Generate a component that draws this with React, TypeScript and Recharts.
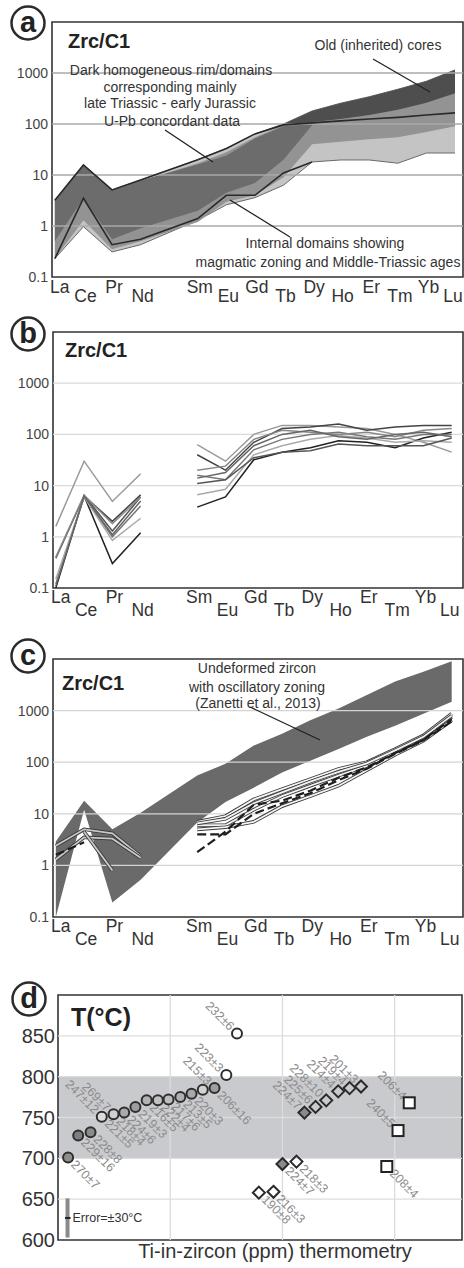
import React from "react";
import {
  ComposedChart, Area, Line, Scatter, XAxis, YAxis,
  ReferenceLine, ReferenceArea, ErrorBar,
} from "recharts";

const FONT = "'Liberation Sans', Arial, Helvetica, sans-serif";

// REE axis: names and atomic numbers (Pm left out, which opens the gap between Nd and Sm)
const REE = ["La", "Ce", "Pr", "Nd", "Sm", "Eu", "Gd", "Tb", "Dy", "Ho", "Er", "Tm", "Yb", "Lu"];
const ATOMIC = [57, 58, 59, 60, 62, 63, 64, 65, 66, 67, 68, 69, 70, 71];
const LOG_TICKS = [0.1, 1, 10, 100, 1000];
const LOG_DOMAIN = [0.1, 10000];

type V = number | null;
const _ = null;

// (a) fields of the three zircon domains (lo / hi of each band)
const aOuterLo: V[] = [0.23, 0.97, 0.31, 0.43, 1.3, 2.6, 3.6, 6.3, 18, 19.7, 19.7, 17, 27, 27];
const aOuterHi: V[] = [3.2, 15.7, 5.1, 8, 20, 33, 64, 100, 180, 256, 343, 480, 690, 1150];
const aMidLo: V[] = [0.23, 1.3, 0.35, 0.5, 1.2, 3, 4, 9, 40, 45, 50, 55, 70, 90];
const aMidHi: V[] = [3.2, 15.7, 5.1, 7.5, 17, 28, 55, 95, 150, 190, 240, 290, 340, 420];
const aDarkLo: V[] = [0.5, 3.5, 0.55, 0.9, 2, 4.5, 7, 20, 95, _, _, _, _, _];
const aDarkHi: V[] = [3.2, 15.7, 5.1, 7.8, 16, 24, 52, 90, 100, _, _, _, _, _];
const aCoreLo: V[] = [_, _, _, _, _, _, 64, 96, 110, 125, 150, 190, 260, 400];
const aCoreHi: V[] = [_, _, _, _, _, _, 64, 100, 180, 256, 343, 480, 690, 1150];
const aRimLine: V[] = [3.2, 15.7, 5.1, 8, 20, 33, 64, 96, 105, 115, 125, 135, 150, 165];
const aInnerLine: V[] = [0.23, 3.5, 0.43, 0.55, 1.4, 4, 4, 11, 18, _, _, _, _, _];

// (b) single spot analyses
const b1: V[] = [1.6, 30, 4.9, 17, 63, 30, 100, 150, 150, 140, 130, 100, 70, 45];
const b2: V[] = [0.38, 6.3, 2.0, 6.6, 40, 20, 70, 130, 140, 160, 120, 140, 150, 150];
const b3: V[] = [0.1, 6.3, 0.3, 1.2, 3.8, 6, 32, 45, 55, 75, 70, 55, 85, 110];
const b4: V[] = [0.12, 6, 1.0, 4, 16, 13, 50, 80, 100, 110, 90, 80, 100, 100];
const b5: V[] = [0.15, 6, 0.85, 2.3, 6.6, 8.5, 40, 60, 80, 95, 85, 70, 75, 70];
const b6: V[] = [_, 6.5, 1.3, 6, 11, 13, 35, 45, 48, 65, 60, 60, 60, 85];
const b7: V[] = [0.4, 6.5, 1.8, 6, 20, 24, 80, 120, 110, 100, 110, 90, 120, 130];
const b8: V[] = [0.11, 6.2, 1.1, 5, 14, 18, 60, 100, 120, 90, 80, 100, 110, 90];
const B_SERIES = { b1, b2, b3, b4, b5, b6, b7, b8 };
const B_COLORS = ["#9a9a9a", "#444", "#222", "#777", "#aaa", "#555", "#888", "#666"];

// (c) undeformed zircon field (Zanetti et al., 2013) and this study
const cBandLo: V[] = [0.1, 12, 0.19, 0.53, 6.8, 17, 32, 63, 107, 180, 310, 510, 870, 1480];
const cBandHi: V[] = [2.9, 18, 5, 10.5, 55, 93, 210, 355, 650, 1100, 2000, 3650, 5650, 9000];
const cw1: V[] = [2.4, 5, 4.2, 1.5, 7, 9, 19, 30, 47, 74, 100, 180, 330, 870];
const cw2: V[] = [1.3, 3.5, 3.3, 1.4, 6, 6, 12, 22, 35, 55, 85, 160, 290, 750];
const cw3: V[] = [_, 4.5, 0.8, _, 5, 5.5, 7, 14, 22, 35, 70, 140, 260, 650];
const cw4: V[] = [_, _, _, _, 6.5, 8, 16, 26, 42, 65, 95, 170, 310, 800];
const cd1: V[] = [1.6, 2.8, _, _, 1.8, 4.5, 15, 18, 28, 50, 80, 150, 270, 680];
const cd2: V[] = [_, _, _, _, 4, 4, 10, 16, 25, 45, 75, 145, 265, 620];
const C_WHITE = { cw1, cw2, cw3, cw4 };
const C_DASHED = { cd1, cd2 };

// (d) Ti-in-zircon temperatures
const circX = [0.9, 1.8, 2.9, 3.9, 4.95, 5.9, 6.9, 7.9, 8.9, 9.85, 10.9, 11.9, 12.9, 13.95, 15.0, 15.95];
const circT = [701, 728, 732, 751, 754, 756, 763, 771, 771, 772, 775, 779, 784, 786, 802, 853];
const circFill = ["#8e8e8e", "#7e7e7e", "#8a8a8a", "#dcdcdc", "#d0d0d0", "#a9a9a9", "#9d9d9d", "#b3b3b3",
  "#c2c2c2", "#bdbdbd", "#b0b0b0", "#a8a8a8", "#d2d2d2", "#9e9e9e", "#ffffff", "#ffffff"];
const circAbove = ["", "", "", "247±12", "269±7", "", "", "", "", "", "", "", "", "215±3", "223±3", "232±6"];
const circBelow = ["270±7", "229±16", "228±8", "221±5", "218±4", "224±6", "219±3", "216±5", "222±4",
  "217±6", "213±5", "220±3", "", "206±16", "", ""];

const diaX = [17.9, 19.2, 20.0, 21.25, 21.96, 22.95, 23.9, 24.97, 25.98, 27.0];
const diaT = [658, 659, 693, 696, 756, 763, 771, 782, 786, 788];
const diaFill = ["none", "none", "#8a8a8a", "none", "#8a8a8a", "none", "none", "none", "none", "none"];
const diaAbove = ["", "", "", "", "224±7", "225±6", "228±10", "214±4", "219±4", "201±3"];
const diaBelow = ["190±8", "216±3", "224±7", "218±3", "", "", "", "", "", ""];

const sqX = [29.3, 30.3, 31.3];
const sqT = [690, 734, 768];
const sqAbove = ["", "240±5", "206±4"];
const sqBelow = ["208±4", "", ""];

const errX = [0.85];
const errT = [627];
const errHalf = [24];

const T_TICKS = [600, 650, 700, 750, 800, 850];

type Row = Record<string, any>;

// one row per element; split lines get an "L"/"H" key so they break between Nd and Sm
function reeRows(
  split: Record<string, V[]>,
  cont: Record<string, V[]>,
  ranges: Record<string, [V[], V[]]>,
): Row[] {
  return ATOMIC.map((z, i) => {
    const row: Row = { z };
    for (const [k, vals] of Object.entries(split)) {
      if (vals[i] != null) row[k + (i < 4 ? "L" : "H")] = vals[i];
    }
    for (const [k, vals] of Object.entries(cont)) {
      if (vals[i] != null) row[k] = vals[i];
    }
    for (const [k, [lo, hi]] of Object.entries(ranges)) {
      if (lo[i] != null && hi[i] != null) row[k] = [lo[i], hi[i]];
    }
    return row;
  });
}

const aData = reeRows({}, { rim: aRimLine, inner: aInnerLine }, {
  outer: [aOuterLo, aOuterHi], mid: [aMidLo, aMidHi], dark: [aDarkLo, aDarkHi], core: [aCoreLo, aCoreHi],
});
const bData = reeRows(B_SERIES, {}, {});
const cData = reeRows({ ...C_WHITE, ...C_DASHED }, {}, { band: [cBandLo, cBandHi] });

const points = (xs: number[], ts: number[], extra: (i: number) => Row) =>
  xs.map((x, i) => ({ x, t: ts[i], ...extra(i) }));
const circData = points(circX, circT, i => ({ fill: circFill[i], above: circAbove[i], below: circBelow[i] }));
const diaData = points(diaX, diaT, i => ({ fill: diaFill[i], above: diaAbove[i], below: diaBelow[i] }));
const sqData = points(sqX, sqT, i => ({ fill: "#fff", above: sqAbove[i], below: sqBelow[i] }));
const errData = points(errX, errT, i => ({ err: errHalf[i] }));

function ReeTick(props: any) {
  const { x, y, payload, up, down } = props;
  const i = ATOMIC.indexOf(payload.value);
  if (i < 0) return null;
  // La sits on the frame, its label is nudged right like in the original
  const dx = i === 0 ? 5 : i === REE.length - 1 ? -2 : 2;
  return (
    <text x={x + dx} y={y + (i % 2 === 0 ? up : down)} textAnchor="middle" fontSize={17.5}
      fill="#333" fontFamily={FONT}>{REE[i]}</text>
  );
}

function reeAxes(domainX: number[], up: number, down: number, yWidth: number) {
  return [
    <XAxis key="x" type="number" dataKey="z" domain={domainX} ticks={ATOMIC} interval={0}
      tick={<ReeTick up={up} down={down} />} tickLine={false} axisLine={false}
      tickSize={0} tickMargin={0} height={30} allowDataOverflow />,
    <YAxis key="y" scale="log" domain={LOG_DOMAIN} ticks={LOG_TICKS} interval={0} allowDataOverflow
      tickFormatter={(v: number) => String(v)}
      tick={{ fontSize: 14, fill: "#444", fontFamily: FONT }}
      tickLine={false} axisLine={false} tickSize={0} tickMargin={4} width={yWidth} />,
  ];
}

const grid = (stroke: string) =>
  LOG_TICKS.slice(1).map(v => <ReferenceLine key={"g" + v} y={v} stroke={stroke} strokeWidth={1.3} />);

const frame = (y1: number, y2: number) => (
  <ReferenceArea key="frame" y1={y1} y2={y2} fill="none" fillOpacity={0} stroke="#333"
    strokeWidth={1.6} ifOverflow="visible" />
);

function Labels({ cx, cy, p }: { cx: number; cy: number; p: any }) {
  const st = { fontSize: 12.5, fill: "#8c8c8c", fontFamily: FONT };
  return (
    <>
      {p.above ? (
        <text x={cx - 5} y={cy - 5} dy={4} textAnchor="end" transform={`rotate(45 ${cx - 5} ${cy - 5})`} {...st}>
          {p.above}
        </text>
      ) : null}
      {p.below ? (
        <text x={cx + 5} y={cy + 5} dy={4} textAnchor="start" transform={`rotate(45 ${cx + 5} ${cy + 5})`} {...st}>
          {p.below}
        </text>
      ) : null}
    </>
  );
}

const circleShape = (props: any) => {
  const { cx, cy, payload } = props;
  return (
    <g>
      <Labels cx={cx} cy={cy} p={payload} />
      <circle cx={cx} cy={cy} r={5} fill={payload.fill} stroke="#2e2e2e" strokeWidth={2} />
    </g>
  );
};

const diamondShape = (props: any) => {
  const { cx, cy, payload } = props;
  const d = 6;
  return (
    <g>
      <Labels cx={cx} cy={cy} p={payload} />
      <path d={`M${cx},${cy - d}L${cx + d},${cy}L${cx},${cy + d}L${cx - d},${cy}Z`}
        fill={payload.fill} stroke="#2a2a2a" strokeWidth={2} />
    </g>
  );
};

const squareShape = (props: any) => {
  const { cx, cy, payload } = props;
  return (
    <g>
      <Labels cx={cx} cy={cy} p={payload} />
      <rect x={cx - 5.5} y={cy - 5.5} width={11} height={11} fill={payload.fill} stroke="#222" strokeWidth={2} />
    </g>
  );
};

const errShape = (props: any) => {
  const { cx, cy } = props;
  return (
    <g>
      <line x1={cx - 2.5} x2={cx + 3} y1={cy} y2={cy} stroke="#222" strokeWidth={2} />
      <text x={cx + 5} y={cy + 4.5} fontSize={12.5} fill="#333" fontFamily={FONT}>Error=±30°C</text>
    </g>
  );
};

function PanelA() {
  return (
    <ComposedChart width={464} height={310} data={aData} margin={{ top: 22, right: 1, bottom: 3, left: 7 }}>
      {reeAxes([56.9, 71.28], 16, 25, 45)}
      <Area dataKey="outer" type="linear" fill="#c4c4c4" fillOpacity={1} stroke="#6a6a6a" strokeWidth={1} isAnimationActive={false} />
      <Area dataKey="mid" type="linear" fill="#939393" fillOpacity={1} stroke="none" isAnimationActive={false} />
      <Area dataKey="dark" type="linear" fill="#6c6c6c" fillOpacity={1} stroke="none" isAnimationActive={false} />
      <Area dataKey="core" type="linear" fill="#4e4e4e" fillOpacity={1} stroke="none" isAnimationActive={false} />
      {grid("#a9a9a9")}
      <Line dataKey="rim" type="linear" stroke="#2a2a2a" strokeWidth={1.6} dot={false} activeDot={false} isAnimationActive={false} />
      <Line dataKey="inner" type="linear" stroke="#2a2a2a" strokeWidth={1.6} dot={false} activeDot={false} isAnimationActive={false} />
      {frame(0.1, 10000)}
    </ComposedChart>
  );
}

function PanelB() {
  const keys = Object.keys(B_SERIES);
  return (
    <ComposedChart width={464} height={301} data={bData} margin={{ top: 12, right: 1, bottom: 3, left: 7 }}>
      {reeAxes([56.9, 71.4], 15, 28, 46)}
      {grid("#dadada")}
      {keys.flatMap((k, i) => ["L", "H"].map(h => (
        <Line key={k + h} dataKey={k + h} type="linear" stroke={B_COLORS[i]} strokeWidth={1.5}
          dot={false} activeDot={false} isAnimationActive={false} />
      )))}
      {frame(0.1, 10000)}
    </ComposedChart>
  );
}

function PanelC() {
  return (
    <ComposedChart width={464} height={310} data={cData} margin={{ top: 19, right: 1, bottom: 3, left: 7 }}>
      {reeAxes([56.9, 71.4], 15, 28, 46)}
      <Area dataKey="band" type="linear" fill="#6a6a6a" fillOpacity={1} stroke="none" isAnimationActive={false} />
      {grid("#d4d4d4")}
      {Object.keys(C_WHITE).flatMap(k => ["L", "H"].flatMap(h => [
        <Line key={k + h + "o"} dataKey={k + h} type="linear" stroke="#3a3a3a" strokeWidth={3.6}
          dot={false} activeDot={false} isAnimationActive={false} />,
        <Line key={k + h + "i"} dataKey={k + h} type="linear" stroke={h === "L" ? "#c8c8c8" : "#f4f4f4"} strokeWidth={1.8}
          dot={false} activeDot={false} isAnimationActive={false} />,
      ]))}
      {Object.keys(C_DASHED).flatMap(k => ["L", "H"].map(h => (
        <Line key={k + h} dataKey={k + h} type="linear" stroke="#1e1e1e" strokeWidth={2.2} strokeDasharray="9 4"
          dot={false} activeDot={false} isAnimationActive={false} />
      )))}
      {frame(0.1, 10000)}
    </ComposedChart>
  );
}

function PanelD() {
  return (
    <ComposedChart width={464} height={308} margin={{ top: 35, right: 2, bottom: 28, left: 6 }}>
      <XAxis type="number" dataKey="x" domain={[0, 36]} hide allowDataOverflow />
      <YAxis type="number" dataKey="t" domain={[600, 900]} ticks={T_TICKS} interval={0} allowDataOverflow
        tick={{ fontSize: 20, fill: "#333", fontFamily: FONT }} tickLine={false} axisLine={false}
        tickSize={0} tickMargin={3} width={52} />
      <ReferenceArea y1={700} y2={800} fill="#c9cacd" fillOpacity={1} stroke="none" />
      {[10, 20, 30].map(v => <ReferenceLine key={"vx" + v} x={v} stroke="#dcdcdc" strokeWidth={1.3} />)}
      {[650, 700, 750, 800, 850].map(v => <ReferenceLine key={"hy" + v} y={v} stroke="#dcdcdc" strokeWidth={1.3} />)}
      <Scatter data={errData} shape={errShape} isAnimationActive={false}>
        <ErrorBar dataKey="err" direction="y" width={0} stroke="#8a8a8a" strokeWidth={4} />
      </Scatter>
      <Scatter data={circData} shape={circleShape} isAnimationActive={false} />
      <Scatter data={diaData} shape={diamondShape} isAnimationActive={false} />
      <Scatter data={sqData} shape={squareShape} isAnimationActive={false} />
      <ReferenceArea y1={600} y2={900} fill="none" fillOpacity={0} stroke="#333" strokeWidth={1.6} ifOverflow="visible" />
    </ComposedChart>
  );
}

const PANELS = [
  { letter: "a", cx: 28, cy: 23 },
  { letter: "b", cx: 28, cy: 334 },
  { letter: "c", cx: 28, cy: 656 },
  { letter: "d", cx: 29, cy: 999 },
];

function Overlay() {
  const note = { fontSize: 14, fill: "#333", fontFamily: FONT, textAnchor: "middle" as const };
  const title = { fontSize: 20, fontWeight: 700, fill: "#222", fontFamily: FONT };
  return (
    <svg width={464} height={1268} style={{ position: "absolute", left: 0, top: 0, pointerEvents: "none" }}>
      {PANELS.map(p => (
        <g key={p.letter}>
          <circle cx={p.cx} cy={p.cy} r={16.5} fill="#fff" stroke="#2b2b2b" strokeWidth={2.5} />
          <text x={p.cx} y={p.cy + 9} textAnchor="middle" fontSize={29} fontWeight={700} fill="#222" fontFamily={FONT}>
            {p.letter}
          </text>
        </g>
      ))}
      <text x={68} y={48} {...title}>Zrc/C1</text>
      <text x={65} y={357} {...title}>Zrc/C1</text>
      <text x={62} y={690} {...title}>Zrc/C1</text>
      <text x={71} y={1026} {...title} fontSize={25}>T(°C)</text>

      <text x={378} y={50} {...note}>Old (inherited) cores</text>
      <line x1={373} y1={59} x2={430} y2={92} stroke="#222" strokeWidth={1.3} />
      <text x={171} y={75} {...note}>Dark homogeneous rim/domains</text>
      <text x={170} y={92} {...note}>corresponding mainly</text>
      <text x={170} y={108} {...note}>late Triassic - early Jurassic</text>
      <text x={172} y={126} {...note}>U-Pb concordant data</text>
      <line x1={165} y1={130} x2={213} y2={162} stroke="#222" strokeWidth={1.3} />
      <text x={325} y={248} {...note}>Internal domains showing</text>
      <text x={328} y={267} {...note}>magmatic zoning and Middle-Triassic ages</text>
      <line x1={230} y1={200} x2={290} y2={237} stroke="#222" strokeWidth={1.3} />

      <text x={257} y={673} {...note}>Undeformed zircon</text>
      <text x={257} y={692} {...note}>with oscillatory zoning</text>
      <text x={258} y={708} {...note}>(Zanetti et al., 2013)</text>
      <line x1={250} y1={707} x2={320} y2={740} stroke="#222" strokeWidth={1.3} />

      <text x={275} y={1258} textAnchor="middle" fontSize={20} fill="#333" fontFamily={FONT}>
        Ti-in-zircon (ppm) thermometry
      </text>
    </svg>
  );
}

export default function App() {
  return (
    <div style={{ position: "absolute", left: 0, top: 0, width: 464, height: 1268, background: "#fff", fontFamily: FONT }}>
      <div style={{ position: "absolute", left: 0, top: 0 }}><PanelA /></div>
      <div style={{ position: "absolute", left: 0, top: 320 }}><PanelB /></div>
      <div style={{ position: "absolute", left: 0, top: 640 }}><PanelC /></div>
      <div style={{ position: "absolute", left: 0, top: 960 }}><PanelD /></div>
      <Overlay />
    </div>
  );
}
